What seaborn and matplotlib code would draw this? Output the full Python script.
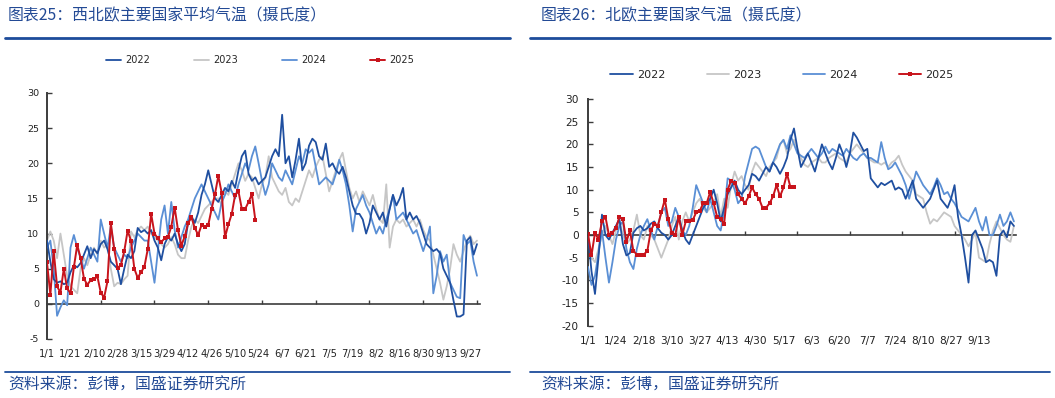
import numpy as np
import pandas as pd
import matplotlib
matplotlib.use("Agg")
import matplotlib.pyplot as plt
import seaborn as sns
from matplotlib.lines import Line2D

# ---------------- data ----------------
years = ["2022", "2023", "2024", "2025"]

left_title = "图表25：西北欧主要国家平均气温（摄氏度）"
right_title = "图表26：北欧主要国家气温（摄氏度）"
source_text = "资料来源：彭博，国盛证券研究所"

left_labels = ["1/1", "1/21", "2/10", "2/28", "3/15", "3/29", "4/12", "4/26", "5/10", "5/24",
               "6/7", "6/21", "7/5", "7/19", "8/2", "8/16", "8/30", "9/13", "9/27"]
right_labels = ["1/1", "1/24", "2/18", "3/10", "3/27", "4/13", "4/30", "5/17", "6/3", "6/20",
                "7/7", "7/24", "8/10", "8/27", "9/13"]

left_yticks = [-5, 0, 5, 10, 15, 20, 25, 30]
right_yticks = [-20, -15, -10, -5, 0, 5, 10, 15, 20, 25, 30]

left_2022 = [9.0, 6.0, 3.5, 3.0, 3.2, 2.8, 3.0, 4.5, 5.5, 5.2, 5.8, 7.0, 8.2, 6.5, 7.8, 7.2, 8.5, 9.0, 7.8, 6.0,
             5.5, 5.0, 2.8, 5.0, 7.0, 6.5, 7.5, 10.8, 10.2, 10.5, 10.0, 10.5, 9.0, 8.0, 6.2, 8.5, 9.5, 9.0, 10.0, 8.5,
             7.5, 8.5, 11.5, 12.5, 11.5, 13.0, 15.5, 17.0, 19.0, 17.0, 15.0, 14.5, 15.5, 16.5, 16.0, 17.5, 16.5, 19.0, 21.0, 21.8,
             18.5, 17.5, 18.0, 17.0, 17.5, 18.0, 19.5, 21.0, 22.0, 21.0, 26.9, 20.0, 21.0, 18.0, 20.5, 23.5, 19.0, 20.0, 22.5, 23.5,
             23.0, 21.0, 20.5, 22.8, 19.5, 20.0, 19.0, 18.5, 19.5, 18.0, 16.0, 14.0, 12.8, 12.8, 12.0, 10.0, 11.5, 14.0, 13.0, 12.0,
             13.0, 11.0, 13.5, 15.5, 14.0, 15.0, 16.5, 12.0, 13.0, 12.0, 12.5, 11.5, 10.0, 8.5, 8.0, 7.5, 7.8, 7.2, 5.0, 4.0,
             3.0, 0.5, -1.8, -1.8, -1.5, 9.0, 9.5, 7.0, 8.5]
left_2023 = [9.0, 10.3, 9.0, 6.5, 10.0, 7.0, 4.0, 2.5, 2.0, 1.5, 5.0, 6.5, 5.5, 7.0, 8.0, 7.0, 9.0, 8.0, 8.5, 5.0,
             2.5, 3.0, 2.8, 3.5, 4.0, 10.3, 9.5, 10.5, 11.0, 10.5, 11.0, 10.0, 9.5, 9.0, 8.5, 8.0, 8.5, 9.5, 8.5, 7.0,
             6.5, 6.5, 9.0, 11.0, 12.0, 11.5, 12.5, 13.5, 14.0, 14.5, 15.0, 15.0, 14.0, 16.0, 15.5, 17.0, 18.5, 20.0, 19.0, 17.5,
             18.5, 18.0, 16.5, 15.0, 17.0, 18.0, 21.0, 18.0, 17.0, 16.0, 15.5, 16.5, 14.5, 14.0, 15.0, 14.5, 16.0, 17.5, 19.0, 18.0,
             19.5, 20.5, 21.0, 18.5, 16.0, 17.5, 19.0, 20.5, 21.5, 19.0, 16.5, 15.0, 16.0, 14.5, 16.0, 15.0, 14.0, 15.5, 13.5, 12.0,
             11.5, 17.0, 8.0, 11.0, 12.0, 11.5, 12.0, 11.0, 11.5, 12.0, 11.0, 12.0, 10.5, 9.5, 9.0, 7.0, 5.0, 3.0, 0.6, 2.5,
             5.0, 8.5, 7.0, 6.0, 7.5, 9.0, 9.7, 8.5, 9.0]
left_2024 = [8.0, 9.0, 5.0, -1.7, -0.5, 0.5, -0.2, 8.0, 9.8, 8.0, 6.5, 5.0, 6.5, 8.0, 7.0, 6.0, 12.0, 10.0, 8.0, 11.0,
             8.0, 7.0, 6.0, 7.0, 6.5, 8.0, 9.0, 10.0, 9.5, 9.0, 9.0, 6.0, 3.0, 7.5, 12.0, 14.0, 10.0, 14.5, 10.5, 8.0,
             9.5, 11.0, 12.0, 13.5, 15.0, 16.0, 17.0, 16.0, 15.0, 14.0, 13.0, 12.0, 14.5, 15.5, 17.0, 16.0, 15.0, 17.0, 18.5, 20.0,
             19.0, 21.0, 22.4, 20.0, 17.5, 15.5, 17.0, 20.0, 19.0, 18.0, 17.5, 19.0, 18.0, 17.0, 19.0, 21.0, 20.0, 22.0, 21.5, 22.0,
             19.5, 17.0, 17.5, 18.0, 17.5, 17.0, 18.5, 20.5, 19.0, 17.0, 14.0, 10.3, 13.5, 14.5, 15.5, 14.0, 13.0, 11.5, 10.0, 11.0,
             10.0, 12.0, 13.5, 15.5, 12.0, 12.5, 13.0, 12.0, 11.0, 10.0, 10.5, 9.0, 7.5, 9.0, 11.0, 1.5, 4.0, 7.5, 6.0, 7.0,
             3.0, 2.0, 1.0, 0.8, 9.8, 8.5, 9.0, 6.0, 4.0]
left_2025 = [5.9, 1.3, 7.5, 2.5, 1.6, 5.0, 2.2, 1.5, 5.2, 8.4, 6.5, 3.6, 2.7, 3.4, 3.5, 3.9, 1.6, 0.9, 3.2, 11.5,
             7.8, 5.1, 5.5, 7.5, 10.4, 9.0, 5.0, 3.7, 4.5, 5.3, 7.8, 12.8, 10.0, 9.3, 8.8, 9.3, 9.5, 11.0, 13.7, 10.5,
             8.3, 9.6, 11.5, 12.3, 10.8, 9.8, 11.2, 11.0, 11.2, 13.5, 15.6, 18.2, 15.8, 9.5, 11.3, 12.8, 15.5, 16.0, 13.5, 13.5,
             14.5, 15.6, 12.0]

right_2022 = [0, -8, -13, -5, 4.5, 0, -1, 0.5, 2, 3.5, -2, -4.5, -4, 0.5, 1.5, 2, 1, 1.5, 2.5, 3,
              1.5, 0.5, 0, -1, 0, 2, 4, 1, -1, -2, 0, 2, 4, 6, 7, 8, 10, 7, 3, 6,
              9, 10.5, 12, 10, 9, 10, 11, 13.5, 13, 12, 13.5, 15, 14, 16, 15, 13.5, 15, 17, 21, 23.5,
              19, 15, 16.5, 18, 16, 14, 17, 20, 18, 16, 14.5, 17, 20, 18, 15, 18, 22.6, 21.5, 20, 18.5,
              19, 12.5, 11.5, 10.5, 11.5, 11, 11.5, 12, 10, 10.5, 10, 8, 10, 12, 8, 7, 6, 7, 8, 10,
              12, 8, 7, 6, 8, 11, 4, 0, -5, -10.5, 0, 1, -1, -3, -6, -5.5, -6, -9, 0, 1,
              -0.5, 3, 2]
right_2023 = [-2, -5, -6, -3, 0, 2, 0, -2, 1, 3, 0, -2, -1, 1, 4.5, 0, -1, 2, 0, -1,
              -3, -5, -3, -1, 2, 4, -1, 3, 5, 3, 5, 7, 8, 6, 5, 6, 7, 9, 4, 8,
              6, 11, 14, 12, 13, 11, 10, 14, 16, 15, 14, 13, 15, 16, 17, 20, 21, 18, 19, 21,
              19, 17, 15.5, 15, 16, 16.5, 17, 16, 16, 17, 17.5, 18, 17, 16.5, 16, 18, 19, 20, 19, 18,
              17, 16.5, 16, 16, 15.5, 16, 15, 16, 16.5, 17.5, 15.5, 14, 13, 12, 9, 8.5, 8, 5, 2.5, 3.5,
              3, 4, 5, 4.5, 4, 2, 1, 0, -1, -2.5, -1, 0.5, -5, -5.5, -6, -2, 1, 3, 1.5, 0,
              -1, -1.5, 2]
right_2024 = [-7, -11, -9, -4, 1, -5, -10.5, -6, -1, 2, 3, -3, -6, -7.5, -3, 0, 2, 3.5, 1, -1,
              2, 5, 6, 2, 3, 6, 4, 1, 0, 2, 6, 11, 9, 7, 5, 8, 5, 2, 1, 5,
              12.5, 12, 10, 7, 8, 13, 16, 19, 19.5, 19, 17, 15, 14, 16, 18, 20, 21, 19, 22, 20,
              18, 17.5, 17, 18, 19, 18, 17, 18, 19.5, 18, 19, 18.5, 18, 17.5, 19, 18, 17, 16.5, 17.5, 18,
              17, 17, 16.5, 16, 20.5, 17, 14.5, 15, 16, 14.5, 13, 11, 8, 11, 14, 12.5, 11, 10, 9, 10.5,
              12.5, 11, 9, 9.5, 8, 7, 5.5, 4, 3.5, 3, 4.5, 6, 3, 1, 4, 0, 0, 2, 4.5, 2,
              3, 5, 3]
right_2025 = [0.2, -4.5, 0.5, -1.0, 3.0, 4.0, 0.0, 0.5, 1.5, 4.0, 3.5, -1.5, 1.0, -3.5, -4.3, -4.5, -4.3, -3.5, 1.0, 2.5,
              2.0, 5.0, 7.8, 3.5, 0.5, 0.0, 4.0, 0.0, 3.0, 3.2, 3.3, 5.0, 5.3, 7.0, 7.0, 9.5, 7.0, 4.0, 3.5, 2.5,
              10.0, 12.0, 11.5, 9.0, 8.0, 7.0, 8.5, 10.5, 9.0, 8.0, 6.0, 6.0, 7.0, 8.5, 11.0, 8.5, 10.5, 13.5, 10.5, 10.5]

# ---------------- style ----------------
sns.set_theme(style="white")
plt.rcParams["font.family"] = ["DejaVu Sans", "Noto Sans CJK SC"]

colors = {"2022": "#1f4fa0", "2023": "#c6c6c6", "2024": "#5a8fd5", "2025": "#c8141c"}
zorders = {"2022": 4, "2023": 2, "2024": 3, "2025": 5}
axis_color = "#3c3c3c"
navy = "#234a95"
rule_color = "#1d4c9b"

fig = plt.figure(figsize=(10.55, 3.98), dpi=100)

W, H = 1055.0, 398.0


def add_axes_px(x0, x1, ytop, ybot):
    return fig.add_axes([x0 / W, 1 - ybot / H, (x1 - x0) / W, (ybot - ytop) / H])


def draw_panel(ax, series, labels, label_step, tick_step, yticks, xmax, fs, xfs, ypad):
    for yr, vals in zip(years, series):
        df = pd.DataFrame({"x": np.arange(len(vals)), "y": vals})
        kw = dict(color=colors[yr], linewidth=1.3, zorder=zorders[yr], label=yr, ax=ax)
        if yr == "2025":
            kw.update(marker="s", markersize=2.6, markeredgewidth=0, linewidth=1.4)
        sns.lineplot(data=df, x="x", y="y", estimator=None, **kw)
    ax.set_xlim(0, xmax)
    ax.set_ylim(min(yticks), max(yticks))
    ax.set_xlabel("")
    ax.set_ylabel("")
    for s in ["top", "right", "bottom"]:
        ax.spines[s].set_visible(False)
    ax.spines["left"].set_color(axis_color)
    ax.spines["left"].set_linewidth(1.4)
    ax.set_yticks(yticks)
    ax.set_yticklabels([str(v) for v in yticks])
    ax.tick_params(axis="y", direction="in", length=3.5, width=1.0, color=axis_color,
                   labelsize=fs, labelcolor="#222222", pad=ypad, left=True)
    pos = np.arange(0, label_step * len(labels), label_step)
    ax.set_xticks(pos)
    ax.set_xticklabels(labels)
    ax.tick_params(axis="x", length=0, labelsize=xfs, labelcolor="#222222", pad=7.5)
    # zero line with inward tick marks
    sec = ax.secondary_xaxis(0, transform=ax.transData)
    sec.set_xticks(np.arange(tick_step, xmax, tick_step))
    sec.tick_params(axis="x", direction="in", length=3.2, width=1.0, color=axis_color,
                    labelbottom=False)
    sec.spines["bottom"].set_color(axis_color)
    sec.spines["bottom"].set_linewidth(1.2)
    leg = ax.get_legend()
    if leg is not None:
        leg.remove()
    ax.grid(False)


axL = add_axes_px(47, 480, 93, 339)
draw_panel(axL, [left_2022, left_2023, left_2024, left_2025], left_labels, 7, 16,
           left_yticks, 128.9, 6.8, 7.1, 5.5)

axR = add_axes_px(588, 1016, 99, 325.7)
draw_panel(axR, [right_2022, right_2023, right_2024, right_2025], right_labels, 8, 15,
           right_yticks, 122.6, 7.6, 7.6, 6.5)


def legend_for(ax, anchor, fs, hl, cs):
    handles, labs = ax.get_legend_handles_labels()
    order = [labs.index(y) for y in years]
    handles = [handles[i] for i in order]
    labs = [labs[i] for i in order]
    fig.legend(handles, labs, loc="center", bbox_to_anchor=anchor, ncol=4, frameon=False,
               fontsize=fs, handlelength=hl, handletextpad=0.4, columnspacing=cs)


legend_for(axL, (260 / W, 1 - 60 / H), 7.0, 1.5, 4.6)
legend_for(axR, (782 / W, 1 - 75 / H), 8.0, 2.0, 3.7)

# titles, rules and source
cjk = ["Noto Sans CJK SC", "DejaVu Sans"]
fig.text(8 / W, 1 - 16 / H, left_title, color=navy, fontsize=11.4, family=cjk, va="center", ha="left")
fig.text(541 / W, 1 - 16 / H, right_title, color=navy, fontsize=11.4, family=cjk, va="center", ha="left")
fig.text(8 / W, 1 - 385 / H, source_text, color=navy, fontsize=11.4, family=cjk, va="center", ha="left")
fig.text(541 / W, 1 - 385 / H, source_text, color=navy, fontsize=11.4, family=cjk, va="center", ha="left")

for (x0, x1) in [(5, 510), (530, 1050)]:
    fig.add_artist(Line2D([x0 / W, x1 / W], [1 - 38 / H, 1 - 38 / H], transform=fig.transFigure,
                          color=rule_color, linewidth=2.0))
    fig.add_artist(Line2D([x0 / W, x1 / W], [1 - 372 / H, 1 - 372 / H], transform=fig.transFigure,
                          color=rule_color, linewidth=1.3))

fig.savefig("out.png", dpi=100)
